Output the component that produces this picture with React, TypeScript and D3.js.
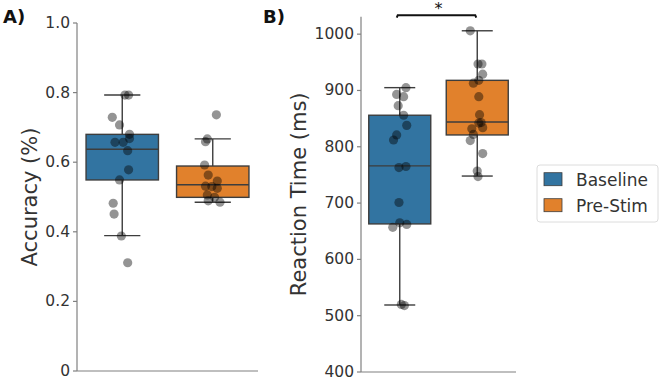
import React from "react";
import * as d3 from "d3";

// groups
const groups = ["Baseline", "Pre-Stim"];
const colors = ["#3274a1", "#e1812c"];

// accuracy points
const accBaseline = [0.793, 0.793, 0.729, 0.707, 0.68, 0.668, 0.657, 0.657, 0.633, 0.578, 0.549, 0.482, 0.451, 0.388, 0.311];
const accBaselineJitter = [0.03, 0.07, -0.11, -0.03, 0.08, 0.08, -0.08, 0.01, 0.06, 0.07, -0.03, -0.1, -0.09, -0.01, 0.06];
const accPreStim = [0.736, 0.667, 0.659, 0.592, 0.563, 0.546, 0.53, 0.531, 0.525, 0.506, 0.499, 0.489, 0.485];
const accPreStimJitter = [0.04, -0.06, -0.08, -0.09, -0.05, 0.05, -0.01, -0.08, 0.05, -0.06, 0.02, -0.05, 0.08];

// reaction time points
const rtBaseline = [905, 893, 889, 873, 856, 838, 821, 812, 765, 763, 701, 665, 662, 657, 520, 518];
const rtBaselineJitter = [0.08, -0.04, 0.05, -0.02, 0.05, 0.09, -0.04, -0.08, 0.08, -0.01, -0.01, 0, 0.09, -0.09, 0.02, 0.06];
const rtPreStim = [1006, 947, 947, 929, 918, 913, 889, 857, 843, 842, 834, 832, 822, 811, 788, 757, 747];
const rtPreStimJitter = [-0.09, 0.01, 0.06, 0.07, 0.02, -0.05, 0.02, 0.03, 0.05, 0.02, 0.07, -0.07, -0.05, -0.09, 0.07, 0, 0.01];

// box stats: [whiskerLow, q1, median, q3, whiskerHigh]
const accBoxes = [
  [0.389, 0.549, 0.637, 0.68, 0.793],
  [0.485, 0.499, 0.535, 0.589, 0.667],
];
const rtBoxes = [
  [519, 663, 766, 856, 905],
  [748, 821, 844, 918, 1006],
];

const accTicks = [0, 0.2, 0.4, 0.6, 0.8, 1.0];
const accTickLabels = ["0", "0.2", "0.4", "0.6", "0.8", "1.0"];
const rtTicks = [400, 500, 600, 700, 800, 900, 1000];

const font = "DejaVu Sans, sans-serif";
const spine = "#808080";
const textCol = "#333";
const edge = "#3d3d3d";

type PanelProps = {
  x0: number;
  x1: number;
  y: d3.ScaleLinear<number, number>;
  ticks: number[];
  tickLabels: string[];
  boxes: number[][];
  points: number[][];
  jitter: number[][];
  label: string;
  labelX: number;
};

function Panel(p: PanelProps) {
  const x = d3.scaleBand().domain(groups).range([p.x0, p.x1]);
  const bw = x.bandwidth();
  const boxW = bw * 0.8;
  const [yBottom, yTop] = p.y.range();
  return (
    <g>
      {p.boxes.map((b, i) => {
        const cx = (x(groups[i]) as number) + bw / 2;
        return (
          <g key={i} stroke={edge} strokeWidth={1.4}>
            <line x1={cx} x2={cx} y1={p.y(b[0])} y2={p.y(b[1])} />
            <line x1={cx} x2={cx} y1={p.y(b[3])} y2={p.y(b[4])} />
            <line x1={cx - boxW / 4} x2={cx + boxW / 4} y1={p.y(b[0])} y2={p.y(b[0])} />
            <line x1={cx - boxW / 4} x2={cx + boxW / 4} y1={p.y(b[4])} y2={p.y(b[4])} />
            <rect x={cx - boxW / 2} width={boxW} y={p.y(b[3])} height={p.y(b[1]) - p.y(b[3])} fill={colors[i]} />
            <line x1={cx - boxW / 2} x2={cx + boxW / 2} y1={p.y(b[2])} y2={p.y(b[2])} />
          </g>
        );
      })}
      {p.points.map((vals, i) => {
        const cx = (x(groups[i]) as number) + bw / 2;
        return vals.map((v, j) => (
          <circle key={i + "-" + j} cx={cx + p.jitter[i][j] * bw} cy={p.y(v)} r={4.6} fill="black" fillOpacity={0.42} />
        ));
      })}
      <line x1={p.x0} x2={p.x0} y1={yBottom} y2={yTop} stroke={spine} strokeWidth={1.2} />
      <line x1={p.x0} x2={p.x1} y1={yBottom} y2={yBottom} stroke={spine} strokeWidth={1.2} />
      {p.ticks.map((t, i) => (
        <g key={t}>
          <line x1={p.x0 - 4} x2={p.x0} y1={p.y(t)} y2={p.y(t)} stroke={spine} strokeWidth={1.2} />
          <text x={p.x0 - 7} y={p.y(t)} textAnchor="end" dominantBaseline="central" fontSize={15.5} fill={textCol} fontFamily={font}>
            {p.tickLabels[i]}
          </text>
        </g>
      ))}
      <text
        transform={`translate(${p.labelX},${(yBottom + yTop) / 2}) rotate(-90)`}
        textAnchor="middle"
        fontSize={21}
        fill={textCol}
        fontFamily={font}
      >
        {p.label}
      </text>
    </g>
  );
}

export default function App() {
  const yAcc = d3.scaleLinear().domain([0, 1]).range([371, 23]);
  const yRt = d3.scaleLinear().domain([400, 1031]).range([372, 16.7]);
  const xB = d3.scaleBand().domain(groups).range([361, 516]);
  const c1 = (xB("Baseline") as number) + xB.bandwidth() / 2;
  const c2 = (xB("Pre-Stim") as number) + xB.bandwidth() / 2;
  const brY = 15.2;
  return (
    <svg width={661} height={380} style={{ position: "absolute", left: 0, top: 0, background: "white" }}>
      <text x={3} y={23} fontSize={18} fontWeight="bold" fontFamily={font} fill="#111">A)</text>
      <text x={263} y={23} fontSize={18} fontWeight="bold" fontFamily={font} fill="#111">B)</text>
      <Panel
        x0={77}
        x1={258}
        y={yAcc}
        ticks={accTicks}
        tickLabels={accTickLabels}
        boxes={accBoxes}
        points={[accBaseline, accPreStim]}
        jitter={[accBaselineJitter, accPreStimJitter]}
        label="Accuracy (%)"
        labelX={37}
      />
      <Panel
        x0={361}
        x1={516}
        y={yRt}
        ticks={rtTicks}
        tickLabels={rtTicks.map(String)}
        boxes={rtBoxes}
        points={[rtBaseline, rtPreStim]}
        jitter={[rtBaselineJitter, rtPreStimJitter]}
        label="Reaction Time (ms)"
        labelX={306}
      />
      <path
        d={`M${c1 - 3},${brY + 2.5} L${c1 - 2},${brY} L${c2 - 2},${brY} L${c2 - 1},${brY + 2.5}`}
        fill="none"
        stroke="#111"
        strokeWidth={2}
      />
      <text x={(c1 + c2) / 2} y={14} textAnchor="middle" fontSize={16} fontFamily={font} fill="#111">*</text>
      <g fontFamily={font} fontSize={17} fill={textCol}>
        <rect x={537} y={165} width={121} height={57} rx={3} fill="white" stroke="#dcdcdc" />
        {groups.map((g, i) => (
          <g key={g}>
            <rect x={544} y={172.7 + i * 26} width={18} height={13} fill={colors[i]} stroke={edge} strokeWidth={0.8} />
            <text x={576} y={185.5 + i * 26.5}>{g}</text>
          </g>
        ))}
      </g>
    </svg>
  );
}
